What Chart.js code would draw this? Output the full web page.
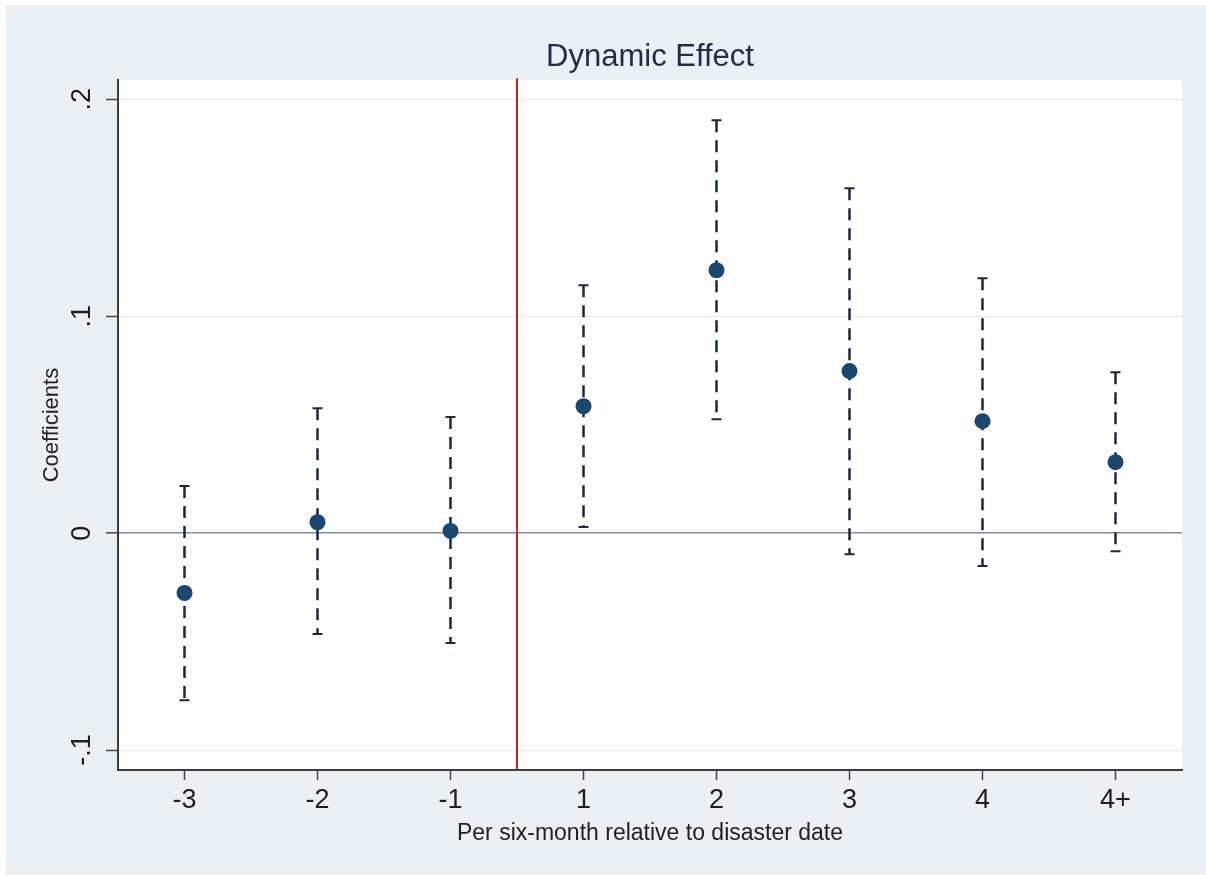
<!DOCTYPE html>
<html>
<head>
<meta charset="utf-8">
<script src="https://cdn.jsdelivr.net/npm/chart.js@4"></script>
<style>
  html, body { margin: 0; padding: 0; background: #fff; }
  #wrap { width: 1206px; height: 876px; }
</style>
</head>
<body>
<div id="wrap"><canvas id="chart" width="1206" height="876"></canvas></div>
<script>
// values
const categories = ['-3', '-2', '-1', '1', '2', '3', '4', '4+'];
const coef   = [-0.0276, 0.0050, 0.0010, 0.0585, 0.1212, 0.0747, 0.0516, 0.0327];
const ciLow  = [-0.0770, -0.0465, -0.0507, 0.0028, 0.0525, -0.0097, -0.0152, -0.0083];
const ciHigh = [0.0217, 0.0576, 0.0535, 0.1143, 0.1903, 0.1590, 0.1175, 0.0742];
const yTicks = [-0.1, 0, 0.1, 0.2];
const yTickLabels = ['-.1', '0', '.1', '.2'];
const refLineAt = 3.5; // between -1 and 1

const FONT = '"Liberation Sans", Arial, Helvetica, sans-serif';

// background + plot region fill
const panel = {
  id: 'panel',
  beforeDraw(chart) {
    const { ctx, chartArea: a } = chart;
    ctx.save();
    ctx.fillStyle = '#ffffff';
    ctx.fillRect(0, 0, chart.width, chart.height);
    ctx.fillStyle = '#eaf0f3';
    ctx.fillRect(6, 5, chart.width - 6, chart.height - 6);
    ctx.fillStyle = '#ffffff';
    ctx.fillRect(a.left, a.top, a.right - a.left, a.bottom - a.top);
    ctx.restore();
  }
};

// red reference line and dashed confidence intervals
const errorBars = {
  id: 'errorBars',
  beforeDatasetsDraw(chart) {
    const { ctx, chartArea: a } = chart;
    const x = chart.scales.x, y = chart.scales.y;
    ctx.save();
    const xr = x.getPixelForValue(refLineAt);
    ctx.strokeStyle = '#c0262d';
    ctx.lineWidth = 2;
    ctx.beginPath();
    ctx.moveTo(xr, a.top - 2);
    ctx.lineTo(xr, a.bottom);
    ctx.stroke();

    ctx.strokeStyle = '#1b2a3c';
    categories.forEach((c, i) => {
      const px = x.getPixelForValue(i + 1);
      const top = y.getPixelForValue(ciHigh[i]);
      const bot = y.getPixelForValue(ciLow[i]);
      ctx.lineWidth = 2.5;
      ctx.setLineDash([12, 8]);
      ctx.beginPath();
      ctx.moveTo(px, top);
      ctx.lineTo(px, bot);
      ctx.stroke();
      ctx.setLineDash([]);
      ctx.lineWidth = 2;
      ctx.beginPath();
      ctx.moveTo(px - 5, top); ctx.lineTo(px + 5, top);
      ctx.moveTo(px - 5, bot); ctx.lineTo(px + 5, bot);
      ctx.stroke();
    });
    ctx.restore();
  }
};

new Chart(document.getElementById('chart'), {
  type: 'scatter',
  data: {
    datasets: [{
      data: coef.map((v, i) => ({ x: i + 1, y: v })),
      pointRadius: 8,
      pointHoverRadius: 8,
      backgroundColor: '#1a476f',
      borderWidth: 0
    }]
  },
  options: {
    responsive: false,
    animation: false,
    layout: { padding: { left: 0, right: 24, top: 0, bottom: 0 } },
    plugins: {
      legend: { display: false },
      tooltip: { enabled: false },
      title: {
        display: true,
        text: 'Dynamic Effect',
        fullSize: false,
        color: '#1f2c4a',
        font: { family: FONT, size: 31, weight: 'normal' },
        padding: { top: 39, bottom: 4 }
      }
    },
    scales: {
      x: {
        type: 'linear',
        min: 0.5,
        max: 8.5,
        afterBuildTicks: (s) => { s.ticks = categories.map((c, i) => ({ value: i + 1 })); },
        afterFit: (s) => { s.height = 106; },
        ticks: {
          callback: (v) => categories[v - 1],
          color: '#1e1e1e',
          font: { family: FONT, size: 27 },
          padding: 4,
          maxRotation: 0,
          autoSkip: false
        },
        grid: { drawOnChartArea: false, tickLength: 10, tickColor: '#444', tickWidth: 1.5 },
        border: { color: '#3c3c3c', width: 2 },
        title: {
          display: true,
          text: 'Per six-month relative to disaster date',
          color: '#222',
          font: { family: FONT, size: 23 },
          padding: { top: 0, bottom: 29 }
        }
      },
      y: {
        min: -0.1092,
        max: 0.2088,
        afterBuildTicks: (s) => { s.ticks = yTicks.map(v => ({ value: v })); },
        afterFit: (s) => { s.width = 118; },
        ticks: {
          callback: (v) => yTickLabels[yTicks.findIndex(t => Math.abs(t - v) < 1e-9)],
          color: '#1e1e1e',
          font: { family: FONT, size: 27 },
          minRotation: 90,
          maxRotation: 90,
          crossAlign: 'center',
          padding: 8
        },
        grid: {
          color: (c) => (c.tick && Math.abs(c.tick.value) < 1e-9) ? '#7e8e9b' : '#e3ebee',
          lineWidth: (c) => (c.tick && Math.abs(c.tick.value) < 1e-9) ? 1.6 : 1,
          tickLength: 12,
          tickColor: '#444',
          tickWidth: 1.5
        },
        border: { color: '#3c3c3c', width: 2 },
        title: {
          display: true,
          text: 'Coefficients',
          color: '#222',
          font: { family: FONT, size: 22 },
          padding: { top: 39, bottom: 0 }
        }
      }
    }
  },
  plugins: [panel, errorBars]
});
</script>
</body>
</html>
